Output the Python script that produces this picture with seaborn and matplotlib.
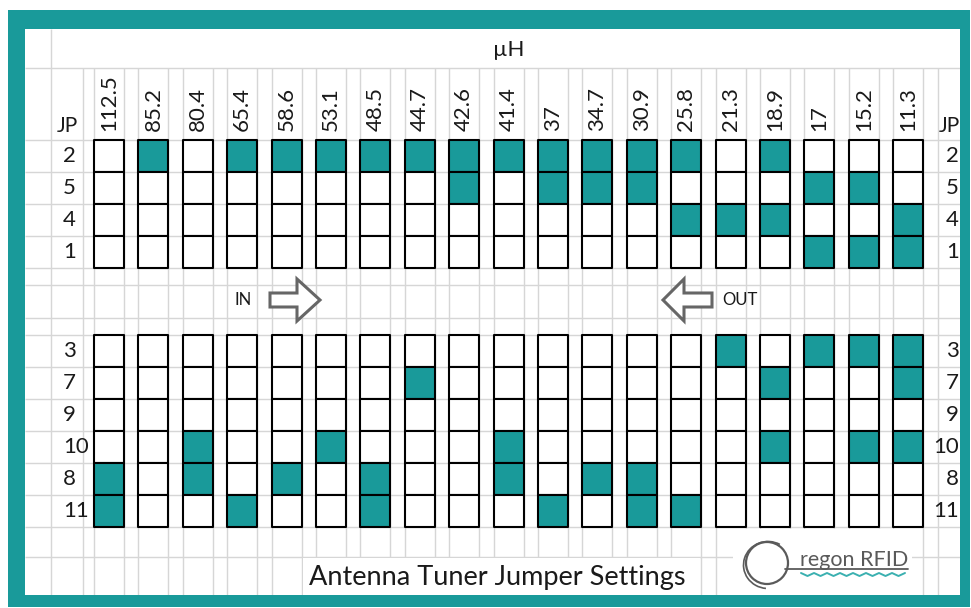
import numpy as np
import pandas as pd
import matplotlib
matplotlib.use("Agg")
import matplotlib.pyplot as plt
import seaborn as sns
from matplotlib.patches import Rectangle, Circle, Arc, FancyArrow
from matplotlib.path import Path
from matplotlib.markers import MarkerStyle

# ---------------- data ----------------
inductance_uH = ["112.5", "85.2", "80.4", "65.4", "58.6", "53.1", "48.5", "44.7", "42.6",
                 "41.4", "37", "34.7", "30.9", "25.8", "21.3", "18.9", "17", "15.2", "11.3"]

in_jumpers = ["2", "5", "4", "1"]
out_jumpers = ["3", "7", "9", "10", "8", "11"]

# 1 = jumper installed (teal), 0 = open (white)
jp2 = [0, 1, 0, 1, 1, 1, 1, 1, 1, 1, 1, 1, 1, 1, 0, 1, 0, 0, 0]
jp5 = [0, 0, 0, 0, 0, 0, 0, 0, 1, 0, 1, 1, 1, 0, 0, 0, 1, 1, 0]
jp4 = [0, 0, 0, 0, 0, 0, 0, 0, 0, 0, 0, 0, 0, 1, 1, 1, 0, 0, 1]
jp1 = [0, 0, 0, 0, 0, 0, 0, 0, 0, 0, 0, 0, 0, 0, 0, 0, 1, 1, 1]

jp3 = [0, 0, 0, 0, 0, 0, 0, 0, 0, 0, 0, 0, 0, 0, 1, 0, 1, 1, 1]
jp7 = [0, 0, 0, 0, 0, 0, 0, 1, 0, 0, 0, 0, 0, 0, 0, 1, 0, 0, 1]
jp9 = [0, 0, 0, 0, 0, 0, 0, 0, 0, 0, 0, 0, 0, 0, 0, 0, 0, 0, 0]
jp10 = [0, 0, 1, 0, 0, 1, 0, 0, 0, 1, 0, 0, 0, 0, 0, 1, 0, 1, 1]
jp8 = [1, 0, 1, 0, 1, 0, 1, 0, 0, 1, 0, 1, 1, 0, 0, 0, 0, 0, 0]
jp11 = [1, 0, 0, 1, 0, 0, 1, 0, 0, 0, 1, 0, 1, 1, 0, 0, 0, 0, 0]

in_states = [jp2, jp5, jp4, jp1]
out_states = [jp3, jp7, jp9, jp10, jp8, jp11]

title = "Antenna Tuner Jumper Settings"
unit_label = "\u00b5H"

# ---------------- style / layout ----------------
TEAL = "#199a9a"
GRID = "#d6d6d6"
W, H, DPI = 971, 608, 100

sns.set_theme(style="white")
plt.rcParams["font.family"] = ["Lato", "DejaVu Sans"]

# pixel geometry of the sheet (used only for layout)
PX0, PITCH_X = 109.0, 44.4        # centre of first column, column pitch
PY0, PITCH_Y = 156.0, 32.0        # centre of first jumper row, row pitch
def dx(p):
    return (p - PX0) / PITCH_X
def dy(p):
    return (p - PY0) / PITCH_Y

IN_OFFSET = 0.0
OUT_OFFSET = 6.1


def blank_axes(a):
    a.set_xticks([])
    a.set_yticks([])
    a.set_xlabel("")
    a.set_ylabel("")
    for sp in a.spines.values():
        sp.set_visible(False)
    a.set_facecolor("white")


fig = plt.figure(figsize=(W / DPI, H / DPI), dpi=DPI)
fig.patch.set_facecolor("white")

# teal frame
frame = Rectangle((8 / W, 1 - 607 / H), (970 - 8) / W, (607 - 10) / H,
                  transform=fig.transFigure, facecolor=TEAL, edgecolor="none", zorder=-1)
fig.add_artist(frame)

ax = fig.add_axes([25 / W, 1 - 595 / H, (960 - 25) / W, (595 - 29) / H])
ax.set_xlim(dx(25), dx(960))
ax.set_ylim(dy(595), dy(29))
blank_axes(ax)

# ---------------- long-form table ----------------
rows = []
for k, (jp, st) in enumerate(zip(in_jumpers, in_states)):
    for i, lab in enumerate(inductance_uH):
        rows.append({"jumper": jp, "uH": lab, "col": i, "slot": IN_OFFSET + k, "state": st[i]})
for k, (jp, st) in enumerate(zip(out_jumpers, out_states)):
    for i, lab in enumerate(inductance_uH):
        rows.append({"jumper": jp, "uH": lab, "col": i, "slot": OUT_OFFSET + k, "state": st[i]})
df = pd.DataFrame(rows)

# ---------------- spreadsheet gridlines ----------------
n = len(inductance_uH)
half_w = 15.0 / PITCH_X
vx = [dx(83), dx(938)]
for i in range(n):
    vx += [i - half_w, i + half_w]
ax.vlines(vx, dy(68), dy(595), colors=GRID, linewidth=1.0, zorder=1)
ax.vlines([dx(51)], dy(29), dy(595), colors=GRID, linewidth=1.0, zorder=1)
hy = [dy(68), dy(285), dy(318), dy(557)]
hy += [IN_OFFSET + k - 0.5 for k in range(len(in_jumpers) + 1)]
hy += [OUT_OFFSET + k - 0.5 for k in range(len(out_jumpers) + 1)]
ax.hlines(hy, dx(25), dx(960), colors=GRID, linewidth=1.0, zorder=1)

# white cell behind the title (text overflow hides gridlines)
ax.add_patch(Rectangle((dx(303), dy(558)), dx(700) - dx(303), dy(595) - dy(558),
                       facecolor="white", edgecolor="none", zorder=1.5))

# ---------------- jumper cells ----------------
cell = Path([(-15, -16), (15, -16), (15, 16), (-15, 16), (-15, -16)],
            [Path.MOVETO, Path.LINETO, Path.LINETO, Path.LINETO, Path.CLOSEPOLY])
fig.canvas.draw()
h_px = abs(ax.transData.transform((0, 1))[1] - ax.transData.transform((0, 0))[1])
h_pt = h_px * 72.0 / DPI
sns.scatterplot(data=df, x="col", y="slot", hue="state",
                palette={0: "white", 1: TEAL}, marker=MarkerStyle(cell),
                s=h_pt ** 2, edgecolor="black", linewidth=1.5,
                legend=False, ax=ax, zorder=3, clip_on=False)
ax.set_xlim(dx(25), dx(960))
ax.set_ylim(dy(595), dy(29))
blank_axes(ax)

# ---------------- texts ----------------
FS = 16
TXT = "#1a1a1a"
for i, lab in enumerate(inductance_uH):
    ax.text(i, dy(131), lab, rotation=90, ha="center", va="bottom",
            fontsize=FS, color=TXT, zorder=4)

for k, jp in enumerate(in_jumpers):
    ax.text(dx(63), IN_OFFSET + k, jp, ha="left", va="center", fontsize=FS, color=TXT)
    ax.text(dx(959), IN_OFFSET + k, jp, ha="right", va="center", fontsize=FS,
            color=TXT, clip_on=True)
for k, jp in enumerate(out_jumpers):
    ax.text(dx(63), OUT_OFFSET + k, jp, ha="left", va="center", fontsize=FS, color=TXT)
    ax.text(dx(959), OUT_OFFSET + k, jp, ha="right", va="center", fontsize=FS,
            color=TXT, clip_on=True)

ax.text(dx(67.5), dy(126), "JP", ha="center", va="center", fontsize=15, color=TXT)
ax.text(dx(960), dy(126), "JP", ha="right", va="center", fontsize=15, color=TXT,
        clip_on=True)

ax.text(n // 2, dy(50), unit_label, ha="center", va="center", fontsize=16, color=TXT)

ax.text(dx(243), dy(300), "IN", ha="center", va="center", fontsize=12, color=TXT)
ax.text(dx(722), dy(300), "OUT", ha="left", va="center", fontsize=12, color=TXT)

ax.text(dx(497), dy(578), title, ha="center", va="center", fontsize=19.5, color=TXT,
        zorder=4)

# ---------------- arrows ----------------
ARROW_EC = "#666666"
ax.add_patch(FancyArrow(dx(270), dy(300), dx(320) - dx(270), 0,
                        width=14 / PITCH_Y, head_width=42 / PITCH_Y,
                        head_length=23 / PITCH_X, length_includes_head=True,
                        facecolor="white", edgecolor=ARROW_EC, linewidth=2.2, zorder=4))
ax.add_patch(FancyArrow(dx(712), dy(300), dx(663) - dx(712), 0,
                        width=14 / PITCH_Y, head_width=42 / PITCH_Y,
                        head_length=21 / PITCH_X, length_includes_head=True,
                        facecolor="white", edgecolor=ARROW_EC, linewidth=2.2, zorder=4))

# ---------------- logo (white box, pixel-unit axes) ----------------
lx0, ly0, lx1, ly1 = 733, 529, 912, 595
lax = fig.add_axes([lx0 / W, 1 - ly1 / H, (lx1 - lx0) / W, (ly1 - ly0) / H])
lax.set_xlim(0, lx1 - lx0)
lax.set_ylim(ly1 - ly0, 0)
blank_axes(lax)
LOGO_GRAY = "#5a5a5a"
lax.add_patch(Circle((34, 34), 21, facecolor="none", edgecolor=LOGO_GRAY, linewidth=1.6))
lax.add_patch(Arc((35, 36), 49, 47, theta1=95, theta2=300, edgecolor=LOGO_GRAY, linewidth=1.2))
lax.plot([52, 175], [40, 40], color=LOGO_GRAY, linewidth=1.3)
lax.text(67, 37, "regon RFID", ha="left", va="baseline", fontsize=15.5, color=LOGO_GRAY)
wave_x = [68, 74.5, 81, 87.5, 94, 100.5, 107, 113.5, 120, 126.5, 133, 139.5,
          146, 152.5, 159, 165.5, 172]
wave_y = [44, 47, 44, 47, 44, 47, 44, 47, 44, 47, 44, 47, 44, 47, 44, 47, 44]
lax.plot(wave_x, wave_y, color="#3ab0b0", linewidth=1.4, solid_joinstyle="round")

fig.savefig("out.png", dpi=DPI, facecolor="white")
